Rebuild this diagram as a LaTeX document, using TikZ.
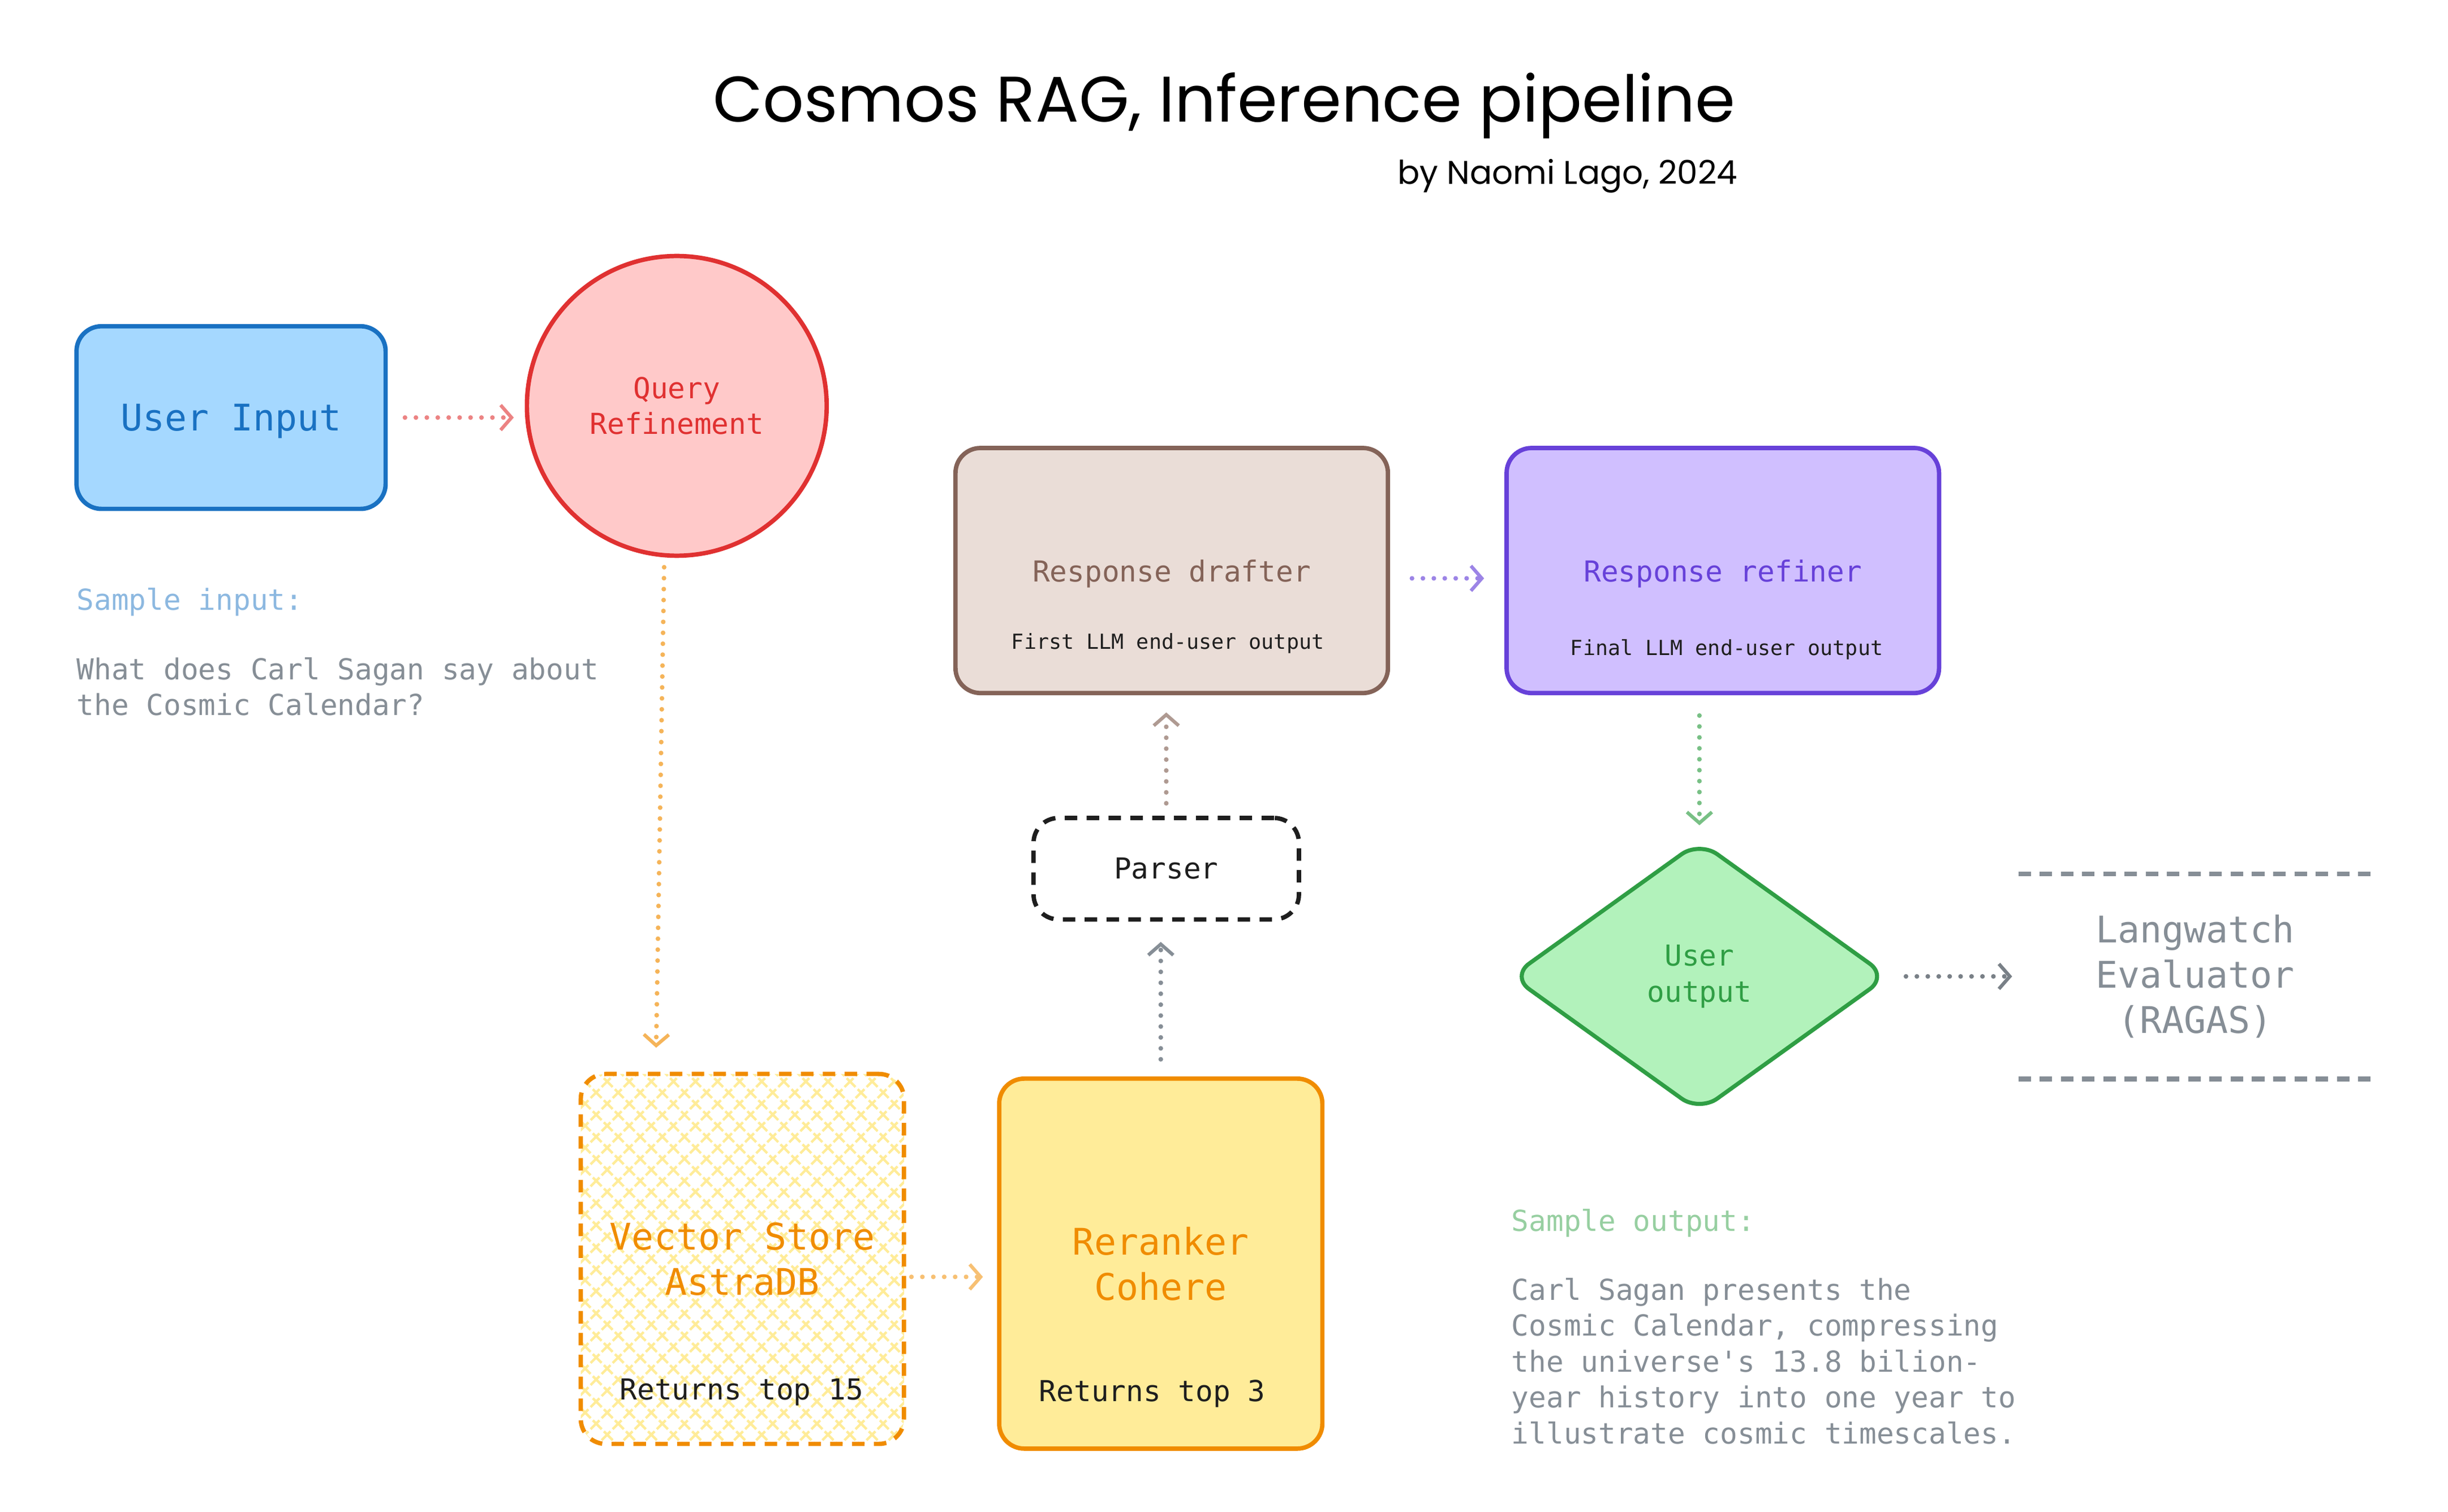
\documentclass[tikz,border=0pt]{standalone}
\usepackage{fontspec}
\setmainfont{Poppins}
\setmonofont{DejaVu Sans Mono}
\usepackage{tikz}
\usetikzlibrary{arrows.meta, shapes.geometric, patterns.meta, calc}
\usepackage{xcolor}

\definecolor{inputfill}{HTML}{A5D8FF}
\definecolor{inputline}{HTML}{1971C2}
\definecolor{queryfill}{HTML}{FFC9C9}
\definecolor{queryline}{HTML}{E03131}
\definecolor{storefill}{HTML}{FFEC99}
\definecolor{storeline}{HTML}{F08C00}
\definecolor{draftfill}{HTML}{EADDD7}
\definecolor{draftline}{HTML}{846358}
\definecolor{refinefill}{HTML}{D0BFFF}
\definecolor{refineline}{HTML}{6741D9}
\definecolor{outfill}{HTML}{B2F2BB}
\definecolor{outline}{HTML}{2F9E44}
\definecolor{inkblack}{HTML}{1E1E1E}
\definecolor{notegray}{HTML}{868E96}

\newcommand{\bigmono}{\ttfamily\fontsize{23.5}{29}\selectfont}
\newcommand{\midmono}{\ttfamily\fontsize{18.5}{23}\selectfont}
\newcommand{\smallmono}{\ttfamily\fontsize{13.3}{16}\selectfont}

\begin{document}
\begin{tikzpicture}[x=1pt,y=1pt,yscale=-1,xscale=1,
  card/.style={rectangle, rounded corners=16pt, line width=2.8pt, inner sep=0pt, align=center},
  flow/.style={line width=3pt, line cap=round, dash pattern=on 0pt off 7pt,
    -{Straight Barb[length=7pt,width=16pt,line width=2.2pt]}},
  evaldash/.style={line width=3pt, notegray, dash pattern=on 8pt off 5.6pt}]
\useasboundingbox (0,0) rectangle (1568,968.6);

% Text Node
\draw (784,78) node [anchor=base, inner sep=0pt, font=\fontsize{41.3}{48}\selectfont] (title) {Cosmos RAG, Inference pipeline};
% Text Node
\draw (1113,118) node [anchor=base east, inner sep=0pt, font=\fontsize{21}{25}\selectfont] (byline) {by Naomi Lago, 2024};

%Shape: Rectangle [id:userinput]
\draw (148,267.5) node [card, fill=inputfill, draw=inputline, minimum width=198pt, minimum height=117pt, text depth=0pt, font=\bigmono, text=inputline] (userinput) {User Input};
%Shape: Circle [id:query]
\draw (433.5,260) node [circle, line width=2.8pt, inner sep=0pt, minimum size=192pt, fill=queryfill, draw=queryline, align=center, font=\midmono, text=queryline] (query) {Query\\Refinement};

% Text Node
\draw (49,376.5) node [anchor=north west, inner sep=0pt, font=\midmono, text=inputline!50!white] (samplein) {Sample input:};
% Text Node
\draw (49,421) node [anchor=north west, inner sep=0pt, align=left, font=\midmono, text=notegray] (questiontext) {What does Carl Sagan say about\\the Cosmic Calendar?};

%Shape: Rectangle [id:vectorstore]
\draw (475.5,806.5) node [card, draw=storeline, dash pattern=on 8pt off 6pt, pattern={Hatch[angle=45,distance=10pt,line width=1.6pt]}, pattern color=storefill, minimum width=207pt, minimum height=237pt, font=\bigmono, text=storeline] (vectorstore) {Vector Store\\AstraDB};
% Text Node
\draw (475,892) node [inner sep=0pt, font=\midmono, text=inkblack] (storetop) {Returns top 15};

%Shape: Rectangle [id:reranker]
\draw (743.5,809.5) node [card, fill=storefill, draw=storeline, minimum width=207pt, minimum height=237pt, font=\bigmono, text=storeline] (reranker) {Reranker\\Cohere};
% Text Node
\draw (738,893) node [inner sep=0pt, font=\midmono, text=inkblack] (rerankertop) {Returns top 3};

%Shape: Rectangle [id:parser]
\draw (747,556.5) node [card, draw=inkblack, dash pattern=on 8pt off 6pt, minimum width=170pt, minimum height=65pt, font=\midmono, text=inkblack] (parser) {Parser};

%Shape: Rectangle [id:drafter]
\draw (750.5,365.5) node [card, fill=draftfill, draw=draftline, minimum width=277pt, minimum height=157pt, text depth=0pt, font=\midmono, text=draftline] (drafter) {Response drafter};
% Text Node
\draw (748,412) node [inner sep=0pt, font=\smallmono, text=inkblack] (draftnote) {First LLM end-user output};

%Shape: Rectangle [id:refiner]
\draw (1103.5,365.5) node [card, fill=refinefill, draw=refineline, minimum width=277pt, minimum height=157pt, text depth=0pt, font=\midmono, text=refineline] (refiner) {Response refiner};
% Text Node
\draw (1106,416) node [inner sep=0pt, font=\smallmono, text=inkblack] (refinenote) {Final LLM end-user output};

%Shape: Diamond [id:useroutput]
\draw (1088.5,625.5) node [diamond, rounded corners=14pt, line width=2.6pt, inner sep=0pt, minimum width=242pt, minimum height=174pt, fill=outfill, draw=outline, align=center, font=\midmono, text=outline] (useroutput) {User\\output};

% Text Node
\draw (1406,625.5) node [inner sep=0pt, minimum width=226pt, minimum height=131pt, align=center, font=\bigmono, text=notegray] (langwatch) {Langwatch\\Evaluator\\(RAGAS)};
%Straight Lines
\draw [evaldash] (langwatch.north west) -- (langwatch.north east);
%Straight Lines
\draw [evaldash] (langwatch.south west) -- (langwatch.south east);

% Text Node
\draw (968,774.5) node [anchor=north west, inner sep=0pt, font=\midmono, text=outline!50!white] (sampleout) {Sample output:};
% Text Node
\draw (968,818.5) node [anchor=north west, inner sep=0pt, align=left, font=\midmono, text=notegray] (answertext) {Carl Sagan presents the\\Cosmic Calendar, compressing\\the universe's 13.8 bilion-\\year history into one year to\\illustrate cosmic timescales.};

%Straight Lines
\draw [flow, queryline!60!white, shorten <=11pt, shorten >=7pt] (userinput.east) -- (userinput.east -| query.west);
\draw [flow, storeline!65!white, shorten <=6pt, shorten >=16pt] ($(query.south)+(-8,0)$) -- ($(vectorstore.north)+(-55.5,0)$);
\draw [flow, storeline!55!white, shorten <=4pt, shorten >=9pt] ($(vectorstore.east)+(0,11.5)$) -- ($(vectorstore.east -| reranker.west)+(0,11.5)$);
\draw [flow, notegray, shorten <=11pt, shorten >=13pt] (reranker.north) -- (reranker.north |- parser.south);
\draw [flow, draftline!65!white, shorten <=8pt, shorten >=11pt] (parser.north) -- (parser.north |- drafter.south);
\draw [flow, refineline!65!white, shorten <=14pt, shorten >=13pt] ($(drafter.east)+(0,5)$) -- ($(drafter.east -| refiner.west)+(0,5)$);
\draw [flow, outline!65!white, shorten <=13pt, shorten >=8.5pt] (useroutput.north |- refiner.south) -- (useroutput.north);
\draw [flow, notegray!90!black, shorten <=10pt, shorten >=4pt] (useroutput.east) -- (langwatch.west);

\end{tikzpicture}
\end{document}
